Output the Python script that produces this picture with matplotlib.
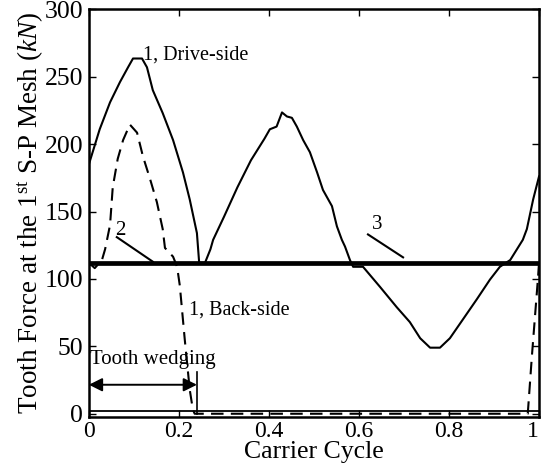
import matplotlib.pyplot as plt

plt.rcParams['font.family'] = 'Liberation Serif'
plt.rcParams['mathtext.fontset'] = 'custom'
plt.rcParams['mathtext.rm'] = 'Liberation Serif'
plt.rcParams['mathtext.it'] = 'Liberation Serif:italic'

# drive-side tooth force (solid)
drive_x = [0.0, 0.024, 0.047, 0.069, 0.087, 0.098, 0.118, 0.129, 0.142, 0.164, 0.187,
           0.209, 0.224, 0.240, 0.245, 0.258, 0.270, 0.276, 0.300, 0.330, 0.360,
           0.390, 0.402, 0.417, 0.429, 0.440, 0.451, 0.462, 0.476, 0.491, 0.507,
           0.520, 0.540, 0.551, 0.562, 0.569, 0.580, 0.587, 0.609, 0.647, 0.684,
           0.713, 0.736, 0.758, 0.780, 0.802, 0.831, 0.862, 0.891, 0.913, 0.936,
           0.964, 0.973, 0.987, 1.0]
drive_y = [185, 211, 231, 246, 257, 263.5, 263.5, 257, 240, 223, 203,
           179, 159, 134, 112, 112, 122, 129, 146, 168, 188,
           204, 211, 213, 223.5, 220.5, 219.5, 213, 203, 194, 179,
           166, 154, 139, 129, 124, 114, 109, 109, 94, 79,
           68, 56, 49, 49, 56, 70, 85, 99.5, 109, 114,
           129, 137, 159, 176]

# back-side tooth force (dashed)
back_x = [0.0, 0.013, 0.029, 0.036, 0.047, 0.053, 0.064, 0.076, 0.091, 0.107, 0.120,
          0.136, 0.151, 0.164, 0.169, 0.187, 0.196, 0.202, 0.213, 0.224, 0.231,
          0.235, 0.975, 0.984, 0.991, 0.998, 1.0]
back_y = [112, 108, 114, 122, 140, 168, 189, 203, 214.5, 208.5, 191,
          174, 157, 137, 123, 116.5, 109, 95, 55, 18, 3,
          0, 0, 42, 72, 102, 112]

# mesh force of other teeth (curves 2 and 3)
mesh_x = [0.0, 1.0]
mesh_y = [112, 112]
base_y = [1.8, 1.8]

fig, ax = plt.subplots(figsize=(5.42, 4.65), dpi=100)
fig.subplots_adjust(left=0.164, right=0.9945, bottom=0.103, top=0.98)

ax.plot(mesh_x, mesh_y, color='k', lw=3.4, zorder=2)
ax.plot(mesh_x, base_y, color='k', lw=1.3, zorder=2)
ax.plot(drive_x, drive_y, color='k', lw=1.5, zorder=3)
ax.plot(back_x, back_y, color='k', lw=1.5, linestyle=(0, (6, 3.5)), zorder=3)

# annotations
ax.text(0.12, 266, '1, Drive-side', fontsize=14.5, va='center', ha='left')
ax.text(0.222, 77, '1, Back-side', fontsize=14.5, va='center', ha='left')
ax.text(0.069, 136, '2', fontsize=15, va='center', ha='center')
ax.plot([0.062, 0.142], [131, 112.8], color='k', lw=1.5)
ax.text(0.64, 140, '3', fontsize=15, va='center', ha='center')
ax.plot([0.62, 0.698], [133, 116], color='k', lw=1.5)

ax.text(0.002, 40, 'Tooth wedging', fontsize=15, va='center', ha='left')
ax.plot([0.24, 0.24], [0, 31], color='k', lw=1.2)
ax.annotate('', xy=(0.0, 21.5), xytext=(0.24, 21.5),
            arrowprops=dict(arrowstyle='<|-|>', color='k', lw=1.4,
                            mutation_scale=20, shrinkA=0, shrinkB=0))

ax.set_xlim(0, 1)
ax.set_ylim(-2.5, 300)
ax.set_xticks([0, 0.2, 0.4, 0.6, 0.8, 1])
ax.set_xticklabels(['0', '0.2', '0.4', '0.6', '0.8', '1'])
ax.set_yticks([0, 50, 100, 150, 200, 250, 300])
ax.tick_params(direction='in', top=True, right=True, length=5, width=1, pad=4)
ax.tick_params(axis='y', labelsize=18.5)
ax.tick_params(axis='x', labelsize=17, pad=3)
ax.get_xticklabels()[-1].set_horizontalalignment('right')
for s in ax.spines.values():
    s.set_linewidth(1.8)

ax.set_xlabel('Carrier Cycle', fontsize=18.5, labelpad=-1)
ax.set_ylabel('Tooth Force at the 1$^{\\rm st}$ S-P Mesh ($kN$)', fontsize=19.5, labelpad=-1)

plt.savefig('out.png', dpi=100)
